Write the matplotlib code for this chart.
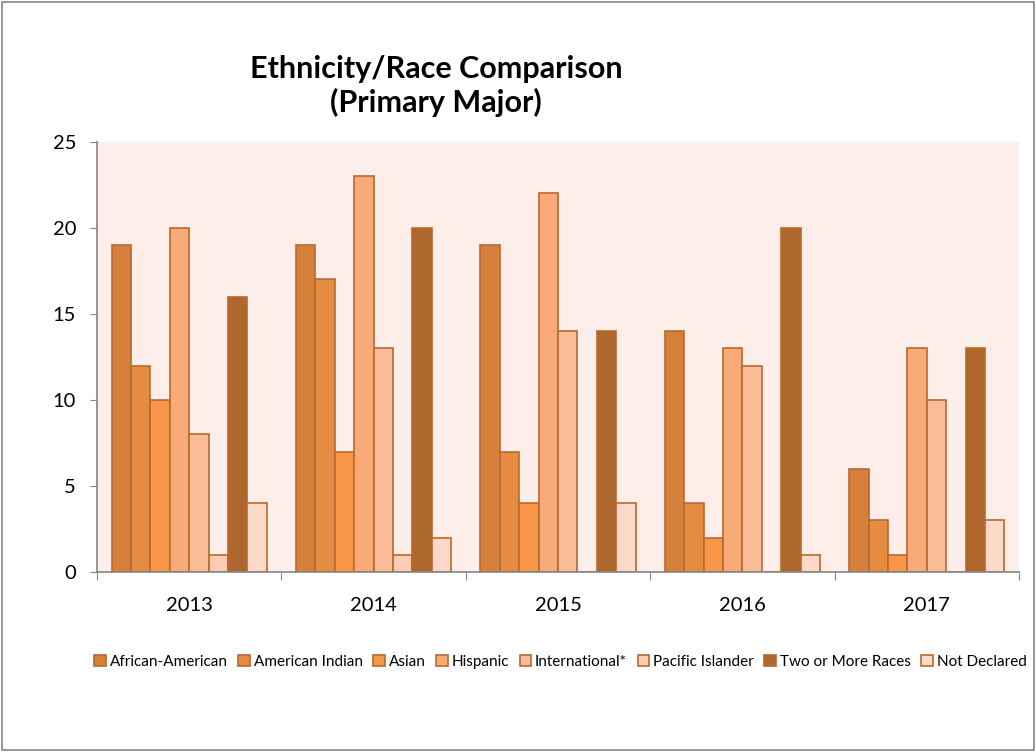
import numpy as np
import matplotlib
matplotlib.use('Agg')
import matplotlib.pyplot as plt
from matplotlib.patches import Rectangle

plt.rcParams['font.family'] = ['Lato', 'DejaVu Sans']

years = ['2013', '2014', '2015', '2016', '2017']
series = ['African-American', 'American Indian', 'Asian', 'Hispanic',
          'International*', 'Pacific Islander', 'Two or More Races', 'Not Declared']
african_american = [19, 19, 19, 14, 6]
american_indian = [12, 17, 7, 4, 3]
asian = [10, 7, 4, 2, 1]
hispanic = [20, 23, 22, 13, 13]
international = [8, 13, 14, 12, 10]
pacific_islander = [1, 1, 0, 0, 0]
two_or_more = [16, 20, 14, 20, 13]
not_declared = [4, 2, 4, 1, 3]
values = [african_american, american_indian, asian, hispanic,
          international, pacific_islander, two_or_more, not_declared]
colors = ['#D5803B', '#E68C42', '#F79646', '#F8AB78',
          '#FABB99', '#FBCBB2', '#AE672C', '#FDD9C9']
edge = '#B8692E'

fig = plt.figure(figsize=(10.36, 7.52), dpi=100)
ax = fig.add_axes([0.0936, 0.2394, 0.89, 0.572])
ax.set_facecolor('#FDEEEA')

x = np.arange(len(years))
n = len(series)
w = 1 / (n + 1.5)
for i, (name, vals, c) in enumerate(zip(series, values, colors)):
    pos = x - n * w / 2 + (i + 0.5) * w
    ax.bar(pos, vals, width=w, color=c, edgecolor=edge, linewidth=1.2, label=name)

ax.set_xlim(-0.5, len(years) - 0.5)
ax.set_ylim(0, 25)
ax.set_yticks(range(0, 26, 5))
ax.tick_params(axis='y', labelsize=14.5, length=5, color='#868686', direction='out', pad=10)
# category labels between boundary ticks
ax.set_xticks(np.arange(-0.5, len(years)), minor=False)
ax.set_xticklabels([])
ax.set_xticks(x, minor=True)
ax.set_xticklabels(years, minor=True)
ax.tick_params(axis='x', which='major', length=6, color='#868686', direction='out')
ax.tick_params(axis='x', which='minor', length=0, labelsize=14.5, pad=18)
for s in ['top', 'right']:
    ax.spines[s].set_visible(False)
for s in ['left', 'bottom']:
    ax.spines[s].set_color('#868686')
    ax.spines[s].set_linewidth(1.2)

fig.text(0.421, 0.886, 'Ethnicity/Race Comparison\n(Primary Major)', ha='center', va='center',
         fontsize=22, fontweight='bold', linespacing=1.2)

fig.legend(loc='center', bbox_to_anchor=(0.541, 0.12), ncol=n, fontsize=11, frameon=False,
           handlelength=0.75, handleheight=0.75, handletextpad=0.25, columnspacing=0.7)

fig.add_artist(Rectangle((0.002, 0.002), 0.996, 0.996, transform=fig.transFigure,
                         fill=False, edgecolor='#868686', linewidth=1.2))

fig.savefig('out.png', dpi=100)
